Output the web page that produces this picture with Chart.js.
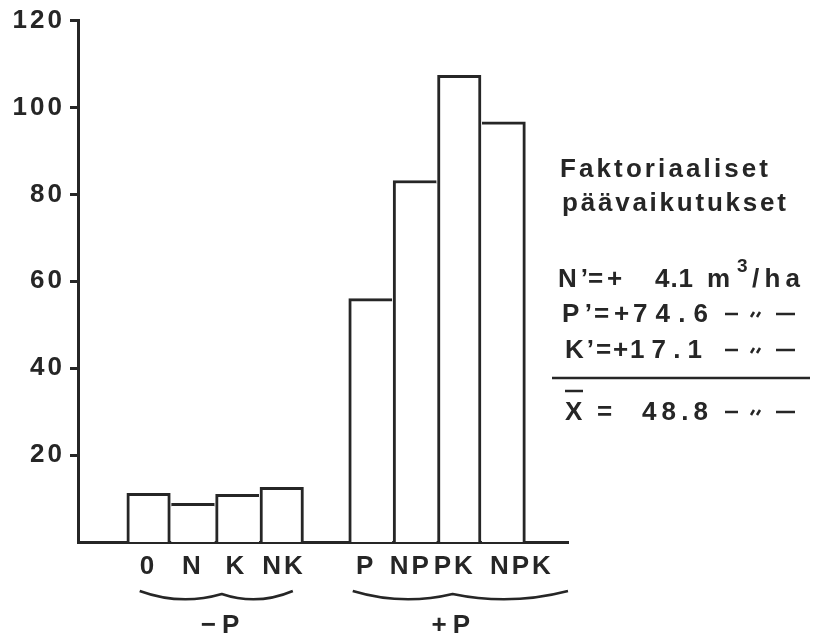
<!DOCTYPE html>
<html lang="fi">
<head>
<meta charset="UTF-8">
<title>Faktoriaaliset päävaikutukset</title>
<script src="https://cdn.jsdelivr.net/npm/chart.js@4.4.0/dist/chart.umd.min.js"></script>
<style>
  html, body { margin: 0; padding: 0; background: #fff; }
  #wrap { width: 814px; height: 638px; }
</style>
</head>
<body>
<div id="wrap"><canvas id="chart" width="814" height="638"></canvas></div>
<script>
// treatments and yields (m3/ha)
const treatments = ['0', 'N', 'K', 'NK', 'P', 'NP', 'PK', 'NPK'];
const slots = [0, 1, 2, 3, 5, 6, 7, 8];       // slot 4 is the gap between groups
const yields = [11.2, 8.9, 11.0, 12.6, 56.0, 83.2, 107.4, 96.7];
const yTicks = [20, 40, 60, 80, 100, 120];
const groupLabels = ['−P', '+P'];

// where the printed labels sit (the +P ones drift right of their bars)
const labelAt = [0, 1, 1.98, 3.05, 4.9, 5.91, 6.9, 8.41];

const ink = '#262626';
const family = '"Liberation Sans", Arial, Helvetica, sans-serif';
const weight = 'bold';

// brace: left, cusp, right, label centre (in slot units)
const braces = [[-0.2, 1.65, 3.25, 1.61], [4.6, 6.85, 9.45, 6.81]];

// only draw an edge once where two bars touch: the taller bar owns it
function edges(i) {
    const w = 3, h = yields[i];
    const prev = i > 0 && slots[i - 1] === slots[i] - 1 ? yields[i - 1] : -1;
    const next = i < yields.length - 1 && slots[i + 1] === slots[i] + 1 ? yields[i + 1] : -1;
    return { top: w, bottom: 0, left: prev <= h ? w : 0, right: next < h ? w : 0 };
}

// draw a string so that it spans x0..x1 (the original is widely letter-spaced)
function spread(ctx, str, x0, x1, y) {
    const chars = [...str];
    const widths = chars.map(c => ctx.measureText(c).width);
    const total = widths.reduce((a, b) => a + b, 0);
    const gap = chars.length > 1 && x1 ? (x1 - x0 - total) / (chars.length - 1) : 0;
    let x = x0;
    chars.forEach((c, i) => { ctx.fillText(c, x, y); x += widths[i] + gap; });
}

function brace(ctx, l, c, r, y) {
    ctx.beginPath();
    ctx.moveTo(l, y - 2);
    ctx.quadraticCurveTo((l + c) / 2, y + 13, c, y + 1);
    ctx.quadraticCurveTo((c + r) / 2, y + 13, r, y - 2);
    ctx.stroke();
}

function ditto(ctx, x, base) {
    const y = base - 8;
    ctx.lineWidth = 2.5;
    ctx.beginPath();
    ctx.moveTo(x, y); ctx.lineTo(x + 13, y);
    ctx.moveTo(x + 26, y + 3); ctx.lineTo(x + 29, y - 2);
    ctx.moveTo(x + 32, y + 3); ctx.lineTo(x + 35, y - 2);
    ctx.moveTo(x + 51, y); ctx.lineTo(x + 70, y);
    ctx.stroke();
}

const spacing = {
    id: 'spacing',
    beforeDraw(chart) { chart.ctx.letterSpacing = '3px'; }
};

const notes = {
    id: 'notes',
    afterDraw(chart) {
        const ctx = chart.ctx;
        const x = chart.scales.x;
        const big = weight + ' 26px ' + family;
        ctx.save();
        ctx.letterSpacing = '0px';
        ctx.fillStyle = ink;
        ctx.strokeStyle = ink;
        ctx.textBaseline = 'alphabetic';
        ctx.textAlign = 'left';

        // group braces under the category labels
        ctx.lineWidth = 2.5;
        braces.forEach((b, i) => {
            const [l, c, r, t] = b.map(v => x.getPixelForValue(v));
            brace(ctx, l, c, r, 593);
            ctx.font = big;
            const w = ctx.measureText(groupLabels[i]).width + 6;
            spread(ctx, groupLabels[i], t - w / 2, t + w / 2, 633);
        });

        // factorial main effects
        ctx.font = big;
        spread(ctx, 'Faktoriaaliset', 560, 768, 177);
        spread(ctx, 'päävaikutukset', 562, 786, 211);

        spread(ctx, 'N’', 558, 588, 287);
        spread(ctx, '=', 588, 0, 287);
        spread(ctx, '+', 607, 0, 287);
        spread(ctx, '4.1', 655, 693, 287);
        spread(ctx, 'm', 707, 0, 287);
        ctx.font = weight + ' 19px ' + family;
        spread(ctx, '3', 737, 0, 272);
        ctx.font = big;
        spread(ctx, '/ha', 752, 800, 287);

        spread(ctx, 'P’', 562, 592, 322);
        spread(ctx, '=', 594, 0, 322);
        spread(ctx, '+', 614, 0, 322);
        spread(ctx, '74.6', 633, 708, 322);
        ditto(ctx, 725, 322);

        spread(ctx, 'K’', 565, 594, 358);
        spread(ctx, '=', 596, 0, 358);
        spread(ctx, '+', 613, 0, 358);
        spread(ctx, '17.1', 630, 702, 358);
        ditto(ctx, 725, 358);

        ctx.lineWidth = 2.5;
        ctx.beginPath();
        ctx.moveTo(552, 378); ctx.lineTo(810, 378);
        ctx.stroke();

        spread(ctx, 'X', 565, 0, 420);
        ctx.beginPath();
        ctx.moveTo(565, 391); ctx.lineTo(583, 391);
        ctx.stroke();
        spread(ctx, '=', 597, 0, 420);
        spread(ctx, '48.8', 642, 708, 420);
        ditto(ctx, 725, 420);

        ctx.restore();
    }
};

new Chart(document.getElementById('chart'), {
    type: 'bar',
    data: {
        datasets: [{
            data: slots.map((s, i) => ({ x: s, y: yields[i] })),
            backgroundColor: '#fff',
            borderColor: ink,
            borderSkipped: false,
            borderWidth: ctx => edges(ctx.dataIndex),
            barPercentage: 1,
            categoryPercentage: 1
        }]
    },
    options: {
        responsive: false,
        animation: false,
        events: [],
        layout: { padding: { left: 0, top: 17, right: 246, bottom: 0 } },
        plugins: { legend: { display: false }, tooltip: { enabled: false } },
        scales: {
            x: {
                type: 'linear',
                offset: false,
                min: -1.59,
                max: 9.45,
                afterBuildTicks: s => { s.ticks = labelAt.map(v => ({ value: v })); },
                afterFit: s => { s.height = 96; },
                grid: { display: false, drawTicks: false },
                border: { display: true, color: ink, width: 3 },
                ticks: {
                    autoSkip: false,
                    maxRotation: 0,
                    padding: 9,
                    color: ink,
                    font: { family: family, size: 26, weight: weight },
                    callback: (v, i) => treatments[i]
                }
            },
            y: {
                min: 0,
                max: 120,
                afterBuildTicks: s => { s.ticks = yTicks.map(v => ({ value: v })); },
                afterFit: s => { s.width = 78; },
                grid: {
                    drawOnChartArea: false,
                    drawTicks: true,
                    tickLength: 8,
                    tickWidth: 3,
                    tickColor: ink
                },
                border: { display: true, color: ink, width: 3 },
                ticks: {
                    padding: 5,
                    color: ink,
                    font: { family: family, size: 26, weight: weight }
                }
            }
        }
    },
    plugins: [spacing, notes]
});
</script>
</body>
</html>
